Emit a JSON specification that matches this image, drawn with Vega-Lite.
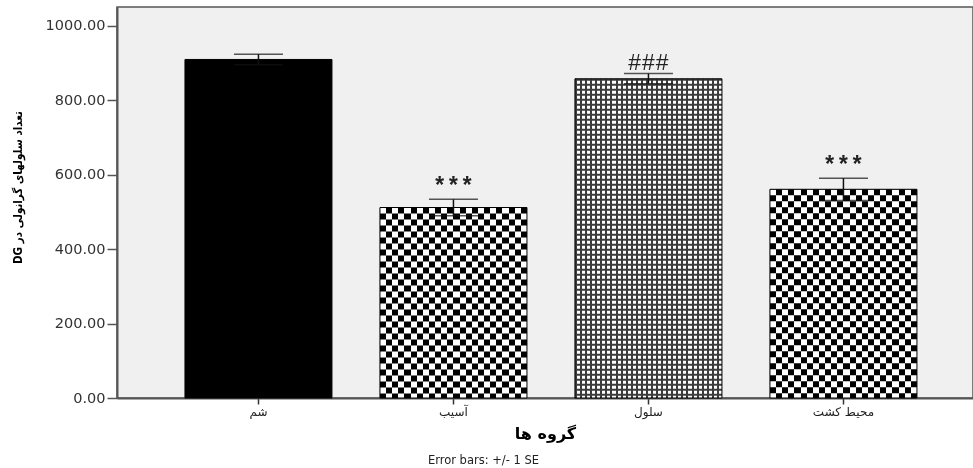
{
  "$schema": "https://vega.github.io/schema/vega-lite/v6.json",
  "width": 856,
  "height": 391,
  "autosize": {"type": "none"},
  "padding": {"left": 117, "top": 7, "right": 0, "bottom": 70},
  "background": "#ffffff",
  "config": {
    "view": {"fill": "#f0f0f0", "stroke": "#555555", "strokeWidth": 1.5}
  },
  "title": {
    "text": "Error bars: +/- 1 SE",
    "orient": "bottom",
    "anchor": "middle",
    "frame": "bounds",
    "dx": -9,
    "dy": -23,
    "offset": 6,
    "font": "DejaVu Sans",
    "fontSize": 11.5,
    "fontWeight": "normal",
    "color": "#222222"
  },
  "data": {
    "values": [
      {"group": "شم", "mean": 910, "lower": 896, "upper": 924, "sig": ""},
      {"group": "آسیب", "mean": 512, "lower": 490, "upper": 534, "sig": "***"},
      {"group": "سلول", "mean": 858, "lower": 845, "upper": 872, "sig": "###"},
      {"group": "محیط کشت", "mean": 561, "lower": 531, "upper": 591, "sig": "***"}
    ]
  },
  "encoding": {
    "x": {
      "field": "group",
      "type": "nominal",
      "sort": null,
      "scale": {
        "domain": ["شم", "آسیب", "سلول", "محیط کشت"],
        "paddingInner": 0.24615,
        "paddingOuter": 0.318,
        "align": 0.548
      },
      "axis": {
        "title": "گروه ها",
        "labelAngle": 0,
        "labelFont": "DejaVu Sans",
        "labelFontSize": 12,
        "labelColor": "#222222",
        "labelPadding": 2,
        "tickSize": 6,
        "tickColor": "#333333",
        "tickWidth": 1.5,
        "domainColor": "#555555",
        "domainWidth": 2,
        "titleFont": "DejaVu Sans",
        "titleFontSize": 16,
        "titleFontWeight": "bold",
        "titleColor": "#000000",
        "titleBaseline": "middle",
        "titleY": 35
      }
    }
  },
  "layer": [
    {
      "transform": [{"filter": "datum.group === 'شم'"}],
      "mark": {"type": "bar", "fill": "#000000"},
      "encoding": {
        "y": {
          "field": "mean",
          "type": "quantitative",
          "scale": {"domain": [0, 1051], "nice": false},
          "axis": {
            "title": "‫تعداد سلولهای گرانولی در DG‬",
            "values": [0, 200, 400, 600, 800, 1000],
            "format": ".2f",
            "grid": false,
            "labelFont": "DejaVu Sans",
            "labelFontSize": 14.5,
            "labelColor": "#333333",
            "labelPadding": 2,
            "tickSize": 10,
            "tickColor": "#555555",
            "tickWidth": 1.5,
            "domainColor": "#555555",
            "domainWidth": 2,
            "titleFont": "DejaVu Sans Condensed, DejaVu Sans",
            "titleFontSize": 11.5,
            "titleFontWeight": "bold",
            "titleColor": "#000000",
            "titleAngle": -90,
            "titleAlign": "center",
            "titleBaseline": "middle",
            "titleX": -99,
            "titleY": 180
          }
        }
      }
    },
    {
      "transform": [{"filter": "datum.group === 'آسیب' || datum.group === 'محیط کشت'"}],
      "mark": {
        "type": "bar",
        "fill": {
          "gradient": "linear", "x1": 0, "y1": 0, "x2": 1, "y2": 0,
          "stops": [
            {"offset": 0, "color": "#000"}, {"offset": 0.0417, "color": "#000"},
            {"offset": 0.0417, "color": "#fff"}, {"offset": 0.0833, "color": "#fff"},
            {"offset": 0.0833, "color": "#000"}, {"offset": 0.125, "color": "#000"},
            {"offset": 0.125, "color": "#fff"}, {"offset": 0.1667, "color": "#fff"},
            {"offset": 0.1667, "color": "#000"}, {"offset": 0.2083, "color": "#000"},
            {"offset": 0.2083, "color": "#fff"}, {"offset": 0.25, "color": "#fff"},
            {"offset": 0.25, "color": "#000"}, {"offset": 0.2917, "color": "#000"},
            {"offset": 0.2917, "color": "#fff"}, {"offset": 0.3333, "color": "#fff"},
            {"offset": 0.3333, "color": "#000"}, {"offset": 0.375, "color": "#000"},
            {"offset": 0.375, "color": "#fff"}, {"offset": 0.4167, "color": "#fff"},
            {"offset": 0.4167, "color": "#000"}, {"offset": 0.4583, "color": "#000"},
            {"offset": 0.4583, "color": "#fff"}, {"offset": 0.5, "color": "#fff"},
            {"offset": 0.5, "color": "#000"}, {"offset": 0.5417, "color": "#000"},
            {"offset": 0.5417, "color": "#fff"}, {"offset": 0.5833, "color": "#fff"},
            {"offset": 0.5833, "color": "#000"}, {"offset": 0.625, "color": "#000"},
            {"offset": 0.625, "color": "#fff"}, {"offset": 0.6667, "color": "#fff"},
            {"offset": 0.6667, "color": "#000"}, {"offset": 0.7083, "color": "#000"},
            {"offset": 0.7083, "color": "#fff"}, {"offset": 0.75, "color": "#fff"},
            {"offset": 0.75, "color": "#000"}, {"offset": 0.7917, "color": "#000"},
            {"offset": 0.7917, "color": "#fff"}, {"offset": 0.8333, "color": "#fff"},
            {"offset": 0.8333, "color": "#000"}, {"offset": 0.875, "color": "#000"},
            {"offset": 0.875, "color": "#fff"}, {"offset": 0.9167, "color": "#fff"},
            {"offset": 0.9167, "color": "#000"}, {"offset": 0.9583, "color": "#000"},
            {"offset": 0.9583, "color": "#fff"}, {"offset": 1, "color": "#fff"}
          ]
        }
      },
      "encoding": {
        "y": {"field": "mean", "type": "quantitative", "scale": {"domain": [0, 1051], "nice": false}}
      }
    },
    {
      "transform": [{"filter": "datum.group === 'سلول'"}],
      "mark": {
        "type": "bar",
        "fill": {
          "gradient": "linear", "x1": 0, "y1": 0, "x2": 1, "y2": 0,
          "stops": [
            {"offset": 0, "color": "#3c3c3c"}, {"offset": 0.0138, "color": "#3c3c3c"}, {"offset": 0.0138, "color": "#fff"}, {"offset": 0.0345, "color": "#fff"},
            {"offset": 0.0345, "color": "#3c3c3c"}, {"offset": 0.0483, "color": "#3c3c3c"}, {"offset": 0.0483, "color": "#fff"}, {"offset": 0.069, "color": "#fff"},
            {"offset": 0.069, "color": "#3c3c3c"}, {"offset": 0.0828, "color": "#3c3c3c"}, {"offset": 0.0828, "color": "#fff"}, {"offset": 0.1034, "color": "#fff"},
            {"offset": 0.1034, "color": "#3c3c3c"}, {"offset": 0.1172, "color": "#3c3c3c"}, {"offset": 0.1172, "color": "#fff"}, {"offset": 0.1379, "color": "#fff"},
            {"offset": 0.1379, "color": "#3c3c3c"}, {"offset": 0.1517, "color": "#3c3c3c"}, {"offset": 0.1517, "color": "#fff"}, {"offset": 0.1724, "color": "#fff"},
            {"offset": 0.1724, "color": "#3c3c3c"}, {"offset": 0.1862, "color": "#3c3c3c"}, {"offset": 0.1862, "color": "#fff"}, {"offset": 0.2069, "color": "#fff"},
            {"offset": 0.2069, "color": "#3c3c3c"}, {"offset": 0.2207, "color": "#3c3c3c"}, {"offset": 0.2207, "color": "#fff"}, {"offset": 0.2414, "color": "#fff"},
            {"offset": 0.2414, "color": "#3c3c3c"}, {"offset": 0.2552, "color": "#3c3c3c"}, {"offset": 0.2552, "color": "#fff"}, {"offset": 0.2759, "color": "#fff"},
            {"offset": 0.2759, "color": "#3c3c3c"}, {"offset": 0.2897, "color": "#3c3c3c"}, {"offset": 0.2897, "color": "#fff"}, {"offset": 0.3103, "color": "#fff"},
            {"offset": 0.3103, "color": "#3c3c3c"}, {"offset": 0.3241, "color": "#3c3c3c"}, {"offset": 0.3241, "color": "#fff"}, {"offset": 0.3448, "color": "#fff"},
            {"offset": 0.3448, "color": "#3c3c3c"}, {"offset": 0.3586, "color": "#3c3c3c"}, {"offset": 0.3586, "color": "#fff"}, {"offset": 0.3793, "color": "#fff"},
            {"offset": 0.3793, "color": "#3c3c3c"}, {"offset": 0.3931, "color": "#3c3c3c"}, {"offset": 0.3931, "color": "#fff"}, {"offset": 0.4138, "color": "#fff"},
            {"offset": 0.4138, "color": "#3c3c3c"}, {"offset": 0.4276, "color": "#3c3c3c"}, {"offset": 0.4276, "color": "#fff"}, {"offset": 0.4483, "color": "#fff"},
            {"offset": 0.4483, "color": "#3c3c3c"}, {"offset": 0.4621, "color": "#3c3c3c"}, {"offset": 0.4621, "color": "#fff"}, {"offset": 0.4828, "color": "#fff"},
            {"offset": 0.4828, "color": "#3c3c3c"}, {"offset": 0.4966, "color": "#3c3c3c"}, {"offset": 0.4966, "color": "#fff"}, {"offset": 0.5172, "color": "#fff"},
            {"offset": 0.5172, "color": "#3c3c3c"}, {"offset": 0.531, "color": "#3c3c3c"}, {"offset": 0.531, "color": "#fff"}, {"offset": 0.5517, "color": "#fff"},
            {"offset": 0.5517, "color": "#3c3c3c"}, {"offset": 0.5655, "color": "#3c3c3c"}, {"offset": 0.5655, "color": "#fff"}, {"offset": 0.5862, "color": "#fff"},
            {"offset": 0.5862, "color": "#3c3c3c"}, {"offset": 0.6, "color": "#3c3c3c"}, {"offset": 0.6, "color": "#fff"}, {"offset": 0.6207, "color": "#fff"},
            {"offset": 0.6207, "color": "#3c3c3c"}, {"offset": 0.6345, "color": "#3c3c3c"}, {"offset": 0.6345, "color": "#fff"}, {"offset": 0.6552, "color": "#fff"},
            {"offset": 0.6552, "color": "#3c3c3c"}, {"offset": 0.669, "color": "#3c3c3c"}, {"offset": 0.669, "color": "#fff"}, {"offset": 0.6897, "color": "#fff"},
            {"offset": 0.6897, "color": "#3c3c3c"}, {"offset": 0.7035, "color": "#3c3c3c"}, {"offset": 0.7035, "color": "#fff"}, {"offset": 0.7241, "color": "#fff"},
            {"offset": 0.7241, "color": "#3c3c3c"}, {"offset": 0.7379, "color": "#3c3c3c"}, {"offset": 0.7379, "color": "#fff"}, {"offset": 0.7586, "color": "#fff"},
            {"offset": 0.7586, "color": "#3c3c3c"}, {"offset": 0.7724, "color": "#3c3c3c"}, {"offset": 0.7724, "color": "#fff"}, {"offset": 0.7931, "color": "#fff"},
            {"offset": 0.7931, "color": "#3c3c3c"}, {"offset": 0.8069, "color": "#3c3c3c"}, {"offset": 0.8069, "color": "#fff"}, {"offset": 0.8276, "color": "#fff"},
            {"offset": 0.8276, "color": "#3c3c3c"}, {"offset": 0.8414, "color": "#3c3c3c"}, {"offset": 0.8414, "color": "#fff"}, {"offset": 0.8621, "color": "#fff"},
            {"offset": 0.8621, "color": "#3c3c3c"}, {"offset": 0.8759, "color": "#3c3c3c"}, {"offset": 0.8759, "color": "#fff"}, {"offset": 0.8966, "color": "#fff"},
            {"offset": 0.8966, "color": "#3c3c3c"}, {"offset": 0.9104, "color": "#3c3c3c"}, {"offset": 0.9104, "color": "#fff"}, {"offset": 0.931, "color": "#fff"},
            {"offset": 0.931, "color": "#3c3c3c"}, {"offset": 0.9448, "color": "#3c3c3c"}, {"offset": 0.9448, "color": "#fff"}, {"offset": 0.9655, "color": "#fff"},
            {"offset": 0.9655, "color": "#3c3c3c"}, {"offset": 0.9793, "color": "#3c3c3c"}, {"offset": 0.9793, "color": "#fff"}, {"offset": 1, "color": "#fff"}
          ]
        }
      },
      "encoding": {
        "y": {"field": "mean", "type": "quantitative", "scale": {"domain": [0, 1051], "nice": false}}
      }
    },
    {
      "transform": [{"filter": "datum.group === 'آسیب' || datum.group === 'محیط کشت'"}],
      "mark": {"type": "rule", "color": "#ffffff", "strokeWidth": 147, "strokeDash": [6, 6], "strokeCap": "butt", "blend": "difference"},
      "encoding": {
        "y": {"field": "mean", "type": "quantitative", "scale": {"domain": [0, 1051], "nice": false}},
        "y2": {"datum": 0}
      }
    },
    {
      "transform": [{"filter": "datum.group === 'سلول'"}],
      "mark": {"type": "rule", "color": "#3c3c3c", "strokeWidth": 147, "strokeDash": [2, 3], "strokeCap": "butt"},
      "encoding": {
        "y": {"field": "mean", "type": "quantitative", "scale": {"domain": [0, 1051], "nice": false}},
        "y2": {"datum": 0}
      }
    },
    {
      "mark": {"type": "bar", "fillOpacity": 0, "stroke": "#000000", "strokeWidth": 1},
      "encoding": {
        "y": {"field": "mean", "type": "quantitative", "scale": {"domain": [0, 1051], "nice": false}}
      }
    },
    {
      "mark": {"type": "rule", "color": "#111111", "strokeWidth": 1.5},
      "encoding": {
        "y": {"field": "lower", "type": "quantitative", "scale": {"domain": [0, 1051], "nice": false}},
        "y2": {"field": "upper"}
      }
    },
    {
      "mark": {"type": "tick", "orient": "horizontal", "size": 49, "thickness": 1.5, "color": "#111111"},
      "encoding": {
        "y": {"field": "upper", "type": "quantitative", "scale": {"domain": [0, 1051], "nice": false}}
      }
    },
    {
      "mark": {"type": "tick", "orient": "horizontal", "size": 49, "thickness": 1.5, "color": "#111111"},
      "encoding": {
        "y": {"field": "lower", "type": "quantitative", "scale": {"domain": [0, 1051], "nice": false}}
      }
    },
    {
      "transform": [{"filter": "datum.sig === '***'"}],
      "mark": {"type": "text", "font": "Liberation Mono", "fontSize": 23, "fontWeight": "bold", "baseline": "middle", "dy": -12, "color": "#222222"},
      "encoding": {
        "y": {"field": "upper", "type": "quantitative", "scale": {"domain": [0, 1051], "nice": false}},
        "text": {"field": "sig"}
      }
    },
    {
      "transform": [{"filter": "datum.sig === '###'"}],
      "mark": {"type": "text", "font": "Liberation Mono", "fontSize": 23, "baseline": "middle", "dy": -11, "color": "#222222"},
      "encoding": {
        "y": {"field": "upper", "type": "quantitative", "scale": {"domain": [0, 1051], "nice": false}},
        "text": {"field": "sig"}
      }
    }
  ]
}
